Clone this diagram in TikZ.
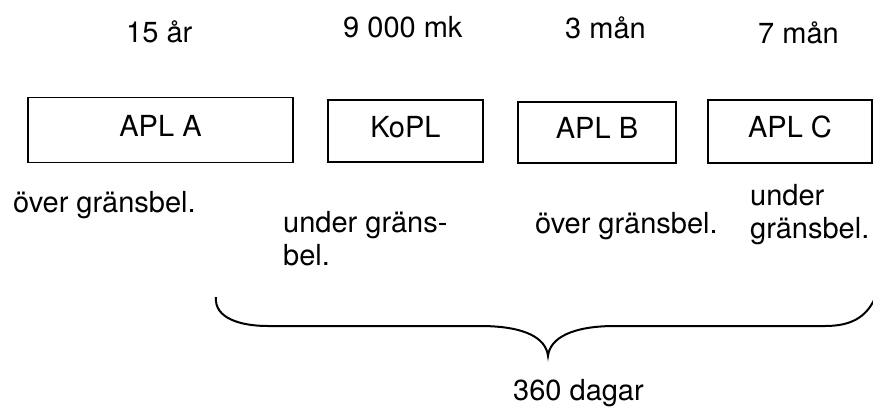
\documentclass[tikz,border=0pt]{standalone}
\usepackage{fontspec}
\setmainfont{TeX Gyre Heros}
\tikzset{
  box/.style={draw, line width=1.8pt, rectangle, inner sep=0pt, text height=22pt, text depth=10pt},
  lbl/.style={inner sep=0pt, anchor=base west, align=left},
  brace/.style={line width=2pt}
}
\begin{document}
\begin{tikzpicture}[x=1pt,y=-1pt,font=\fontsize{29}{33}\selectfont]
\useasboundingbox (0,0) rectangle (873,408);
% top labels
\node[lbl] (t1) at (126,42) {15 år};
\node[lbl] (t2) at (343,37) {9 000 mk};
\node[lbl] (t3) at (565,38) {3 mån};
\node[lbl] (t4) at (758,43) {7 mån};
% boxes
\node[box, minimum width=265pt, minimum height=65pt] (a) at (160.5,130) {APL A};
\node[box, minimum width=155pt, minimum height=62pt] (k) at (405.5,131) {KoPL};
\node[box, minimum width=158pt, minimum height=61pt] (b) at (597,132.5) {APL B};
\node[box, minimum width=164pt, minimum height=63pt] (c) at (790,131.5) {APL C};
% lower labels (base anchor = baseline of last line)
\node[lbl] (l1) at (13,212) {över gränsbel.};
\node[lbl] (l2) at (283,265) {under gräns-\\bel.};
\node[lbl] (l3) at (535,233) {över gränsbel.};
\node[lbl] (l4) at (750,238) {under\\gränsbel.};
% brace
\coordinate (bl) at (216,297);
\coordinate (bt) at (548,356);
\coordinate (br) at (875,298);
\draw[brace] (bl) .. controls (214,318) and (240,326) .. (268,326) -- (480,326)
  .. controls (525,326) and (546,338) .. (bt)
  .. controls (550,338) and (572,326) .. (615,326) -- (825,326)
  .. controls (850,326) and (866,318) .. (br);
\node[lbl] (d) at (513,400) {360 dagar};
\end{tikzpicture}
\end{document}
